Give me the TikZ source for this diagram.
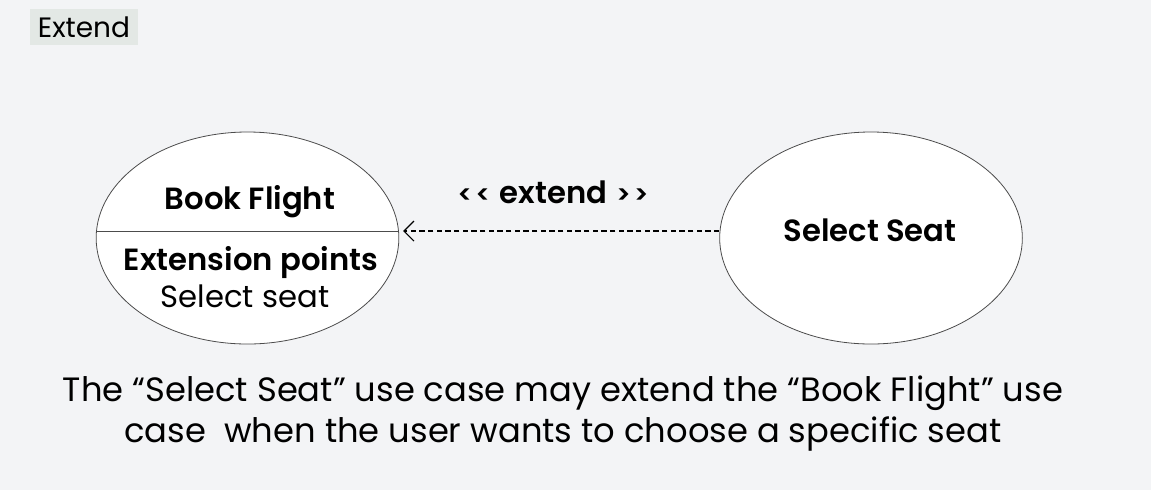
\documentclass[tikz,border=0pt]{standalone}
\usepackage{fontspec}
\setmainfont{Poppins}[BoldFont={Poppins SemiBold}]
\usetikzlibrary{shapes.geometric}
\usetikzlibrary{arrows.meta}
\usetikzlibrary{positioning}

\definecolor{pagebg}{HTML}{F3F4F6}
\definecolor{tagbg}{HTML}{E3E8E5}

\begin{document}
\begin{tikzpicture}[
    x=0.75pt, y=-0.75pt,
    font=\fontsize{22}{26}\selectfont
]
\tikzset{
    usecase/.style = {ellipse, draw=black!70, line width=0.6pt, fill=white, minimum width=227pt, minimum height=159pt, inner sep=0pt},
    ucname/.style = {anchor=base, font=\fontsize{23}{27}\selectfont\bfseries},
    uctext/.style = {anchor=base, font=\fontsize{23}{27}\selectfont},
    notetext/.style = {anchor=base, font=\fontsize{25.3}{30}\selectfont},
    edgext/.style = {-{Straight Barb[length=7.5pt,width=15pt]}, line width=0.8pt, dash pattern=on 4pt off 2.5pt, shorten >=3pt}
}
\newcommand{\chev}[1]{{\fontsize{19}{19}\selectfont#1\kern2.5pt#1}}
\fill[pagebg] (0,0) rectangle (1151,490);
\useasboundingbox (0,0) rectangle (1151,490);
% title tag
\node[fill=tagbg, minimum height=27pt, inner xsep=6pt, font=\fontsize{21}{24}\selectfont] at (84,27) (tag) {Extend};
% use cases
\node[usecase] at (247.5,238) (bf) {};
\node[usecase] at (871,238) (ss) {};
\draw[black!70, line width=0.6pt] ([yshift=5.25pt]bf.west) -- ([yshift=5.25pt]bf.east);
\node[ucname] at (250,209) (bfname) {Book Flight};
\node[ucname] at (251,270) (bfext) {Extension points};
\node[uctext] at (245,307) (bfpoint) {Select seat};
\node[ucname] at (870,241) (ssname) {Select Seat};
% extend relation
\draw[edgext] ([yshift=5.25pt]ss.west) -- ([yshift=5.25pt]bf.east);
\node[ucname] at (553,203) (extlabel) {\chev{<}\kern7pt extend\kern7pt\chev{>}};
% note
\node[notetext] at (563,401) (note1) {The “Select Seat” use case may extend the “Book Flight” use};
\node[notetext] at (563,442) (note2) {case\ \ when the user wants to choose a specific seat};
\end{tikzpicture}
\end{document}
